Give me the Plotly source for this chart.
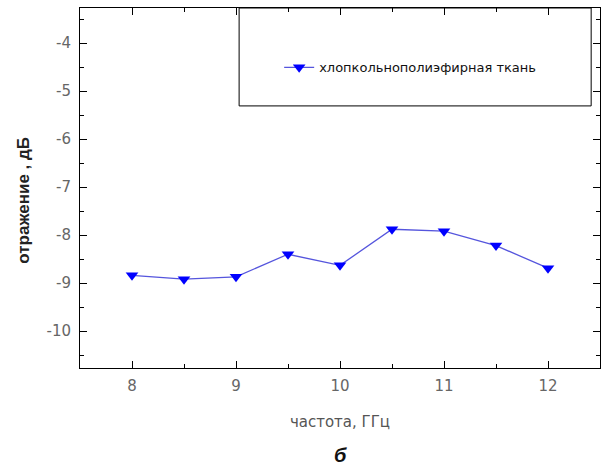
import plotly.graph_objects as go

freq = [8, 8.5, 9, 9.5, 10, 10.5, 11, 11.5, 12]
refl = [-8.84, -8.92, -8.87, -8.40, -8.63, -7.88, -7.92, -8.22, -8.69]
series_name = "хлопкольнополиэфирная ткань"
x_ticks = [8, 9, 10, 11, 12]
y_ticks = [-4, -5, -6, -7, -8, -9, -10]
y_tick_text = ["-4", "-5", "-6", "-7", "-8", "-9", "-10"]

fig = go.Figure()
fig.add_trace(go.Scatter(
    x=freq, y=refl, mode="lines+markers", name=series_name,
    line=dict(color="#5555dd", width=1.3),
    marker=dict(symbol="triangle-down", size=11, color="#0000ff"),
))

axis_common = dict(
    showgrid=False, zeroline=False, showline=True, linecolor="black", linewidth=1,
    mirror="ticks", ticks="inside", ticklen=7, tickcolor="black",
    tickfont=dict(family="DejaVu Sans", size=15, color="#666"),
    minor=dict(ticks="inside", ticklen=4, tickcolor="black", dtick=0.5),
)
fig.update_xaxes(range=[7.5, 12.5], tickvals=x_ticks, ticklabelstandoff=4, **axis_common,
                 title=dict(text="частота, ГГц", standoff=22,
                            font=dict(family="DejaVu Sans", size=15, color="#555")))
fig.update_yaxes(range=[-10.77, -3.27], tickvals=y_ticks, ticktext=y_tick_text,
                 ticklabelstandoff=5, **axis_common)

fig.add_annotation(text="<b>отражение , дБ</b>", xref="paper", yref="paper",
                   x=-0.108, y=0.467, textangle=-90, showarrow=False,
                   xanchor="center", yanchor="middle",
                   font=dict(family="Liberation Sans, Arial", size=17, color="#222"))

fig.add_shape(type="rect", xref="paper", yref="paper",
              x0=0.306, x1=0.983, y0=0.728, y1=1.0,
              line=dict(color="black", width=1), fillcolor="rgba(0,0,0,0)")

fig.add_annotation(text="<b><i>б</i></b>", xref="paper", yref="paper",
                   x=0.5, y=-0.242, yanchor="middle", showarrow=False,
                   font=dict(family="Liberation Sans, Arial", size=20, color="#111"))

fig.update_layout(
    width=607, height=470,
    margin=dict(l=80, r=7, t=8, b=102),
    plot_bgcolor="white", paper_bgcolor="white",
    showlegend=True,
    legend=dict(x=0.383, y=0.835, xanchor="left", yanchor="middle",
                bgcolor="rgba(0,0,0,0)", borderwidth=0,
                font=dict(family="DejaVu Sans", size=13, color="#111")),
)

fig.write_html("out.html")
